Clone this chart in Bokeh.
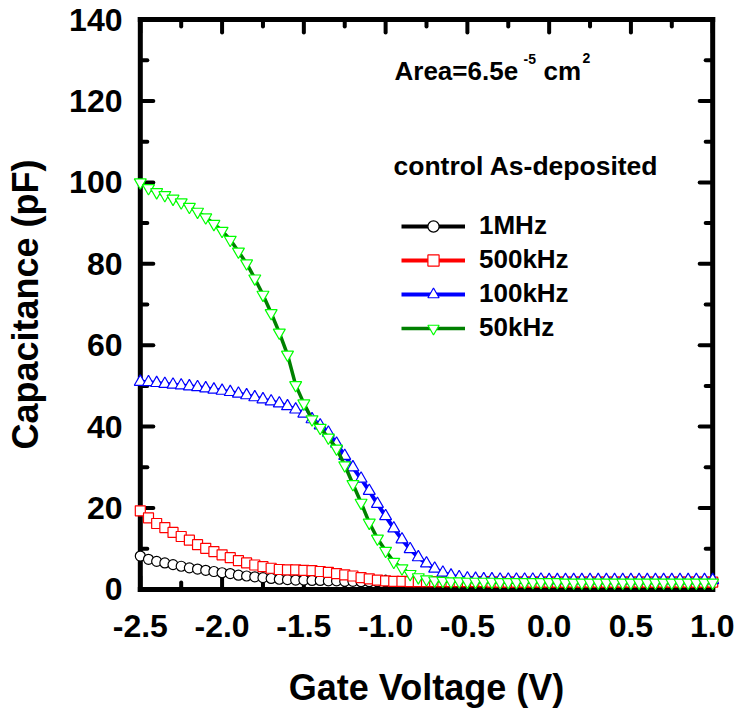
from bokeh.plotting import figure
from bokeh.models import (Range1d, FixedTicker, Legend, LegendItem,
                          Label, ColumnDataSource)
from bokeh.embed import file_html
from bokeh.resources import INLINE

# Gate-voltage sweep (V)
volts = [-2.5, -2.45, -2.4, -2.35, -2.3, -2.25, -2.2, -2.15, -2.1, -2.05,
         -2.0, -1.95, -1.9, -1.85, -1.8, -1.75, -1.7, -1.65, -1.6, -1.55,
         -1.5, -1.45, -1.4, -1.35, -1.3, -1.25, -1.2, -1.15, -1.1, -1.05,
         -1.0, -0.95, -0.9, -0.85, -0.8, -0.75, -0.7, -0.65, -0.6, -0.55,
         -0.5, -0.45, -0.4, -0.35, -0.3, -0.25, -0.2, -0.15, -0.1, -0.05,
         0.0, 0.05, 0.1, 0.15, 0.2, 0.25, 0.3, 0.35, 0.4, 0.45,
         0.5, 0.55, 0.6, 0.65, 0.7, 0.75, 0.8, 0.85, 0.9, 0.95, 1.0]

# Capacitance (pF) per measurement frequency
cap_1mhz = [8.2, 7.4, 6.9, 6.5, 6.1, 5.7, 5.3, 5.0, 4.7, 4.4,
            4.1, 3.9, 3.5, 3.3, 3.1, 2.9, 2.7, 2.5, 2.4, 2.3,
            2.3, 2.2, 2.2, 2.1, 2.1, 2.0, 2.0, 1.9, 1.9, 1.9,
            1.9, 1.8, 1.8, 1.8, 1.8, 1.8, 1.8, 1.8, 1.8, 1.8,
            1.8, 1.8, 1.7, 1.7, 1.7, 1.7, 1.7, 1.7, 1.7, 1.7,
            1.7, 1.7, 1.7, 1.7, 1.7, 1.7, 1.7, 1.7, 1.7, 1.7,
            1.7, 1.7, 1.7, 1.7, 1.7, 1.7, 1.7, 1.7, 1.7, 1.7, 1.7]

cap_500khz = [19.3, 17.6, 16.2, 15.2, 14.0, 13.0, 12.1, 11.0, 10.1, 9.3,
              8.5, 7.8, 7.1, 6.5, 6.0, 5.6, 5.2, 4.9, 4.8, 4.8,
              4.7, 4.6, 4.4, 4.2, 3.9, 3.6, 3.3, 2.9, 2.6, 2.3,
              2.1, 2.0, 2.0, 1.9, 1.9, 1.9, 1.9, 1.9, 1.9, 1.9,
              1.9, 1.9, 1.9, 1.8, 1.8, 1.8, 1.8, 1.8, 1.8, 1.8,
              1.8, 1.8, 1.8, 1.8, 1.8, 1.8, 1.8, 1.8, 1.8, 1.8,
              1.8, 1.8, 1.8, 1.8, 1.8, 1.8, 1.8, 1.8, 1.8, 1.8, 1.8]

cap_100khz = [51.0, 50.9, 50.7, 50.5, 50.3, 50.1, 49.9, 49.7, 49.4, 49.1,
              48.8, 48.5, 48.1, 47.7, 47.2, 46.7, 46.2, 45.7, 45.0, 44.2,
              43.2, 41.8, 40.3, 38.5, 35.8, 32.8, 30.0, 27.2, 24.2, 21.0,
              18.0, 15.0, 12.3, 9.9, 7.9, 6.4, 5.1, 4.1, 3.4, 3.0,
              2.7, 2.6, 2.5, 2.5, 2.4, 2.4, 2.4, 2.4, 2.4, 2.4,
              2.3, 2.3, 2.3, 2.3, 2.3, 2.3, 2.3, 2.3, 2.3, 2.3,
              2.3, 2.3, 2.3, 2.3, 2.3, 2.3, 2.3, 2.3, 2.3, 2.3, 2.3]

cap_50khz = [100.0, 98.6, 97.6, 96.9, 96.0, 95.1, 94.0, 92.8, 91.4, 89.8,
             88.1, 85.9, 83.0, 80.1, 76.4, 72.4, 67.9, 63.1, 57.7, 50.2,
             45.7, 41.8, 39.7, 37.3, 34.6, 30.5, 25.9, 21.3, 16.4, 12.5,
             9.5, 6.8, 5.2, 3.8, 3.0, 2.5, 2.2, 2.1, 2.0, 2.0,
             1.9, 1.9, 1.9, 1.9, 1.8, 1.8, 1.8, 1.8, 1.8, 1.8,
             1.8, 1.8, 1.7, 1.7, 1.7, 1.7, 1.7, 1.7, 1.7, 1.7,
             1.7, 1.7, 1.7, 1.7, 1.7, 1.7, 1.7, 1.7, 1.7, 1.7, 1.7]

series_labels = ["1MHz", "500kHz", "100kHz", "50kHz"]

x_major = [-2.5, -2.0, -1.5, -1.0, -0.5, 0.0, 0.5, 1.0]
x_minor = [-2.25, -1.75, -1.25, -0.75, -0.25, 0.25, 0.75]
x_tick_labels = ["-2.5", "-2.0", "-1.5", "-1.0", "-0.5", "0.0", "0.5", "1.0"]
y_major = [0, 20, 40, 60, 80, 100, 120, 140]
y_minor = [10, 30, 50, 70, 90, 110, 130]
y_tick_labels = ["0", "20", "40", "60", "80", "100", "120", "140"]

X_START, X_END = -2.5, 1.0
Y_START, Y_END = 0, 140
FONT = "Liberation Sans"

# Frame slightly larger than the axis box, so the box edges and the end
# markers are not clipped.
X_LO, X_HI = -2.56, 1.06
Y_LO, Y_HI = -1.0, 141.0
W, H = 734, 713
LEFT, RIGHT, TOP, BOTTOM = 130, 12, 15, 120

p = figure(width=W, height=H, output_backend="svg", toolbar_location=None,
           x_range=Range1d(X_LO, X_HI), y_range=Range1d(Y_LO, Y_HI),
           min_border_left=LEFT, min_border_right=RIGHT,
           min_border_top=TOP, min_border_bottom=BOTTOM,
           x_axis_label="Gate Voltage (V)", y_axis_label="Capacitance (pF)")
p.xgrid.visible = False
p.ygrid.visible = False
p.outline_line_color = None
p.background_fill_color = "white"
p.border_fill_color = "white"

# axes carry only the numbers and titles; box and ticks are drawn below
for ax, major, labels in ((p.xaxis[0], x_major, x_tick_labels),
                          (p.yaxis[0], y_major, y_tick_labels)):
    ax.ticker = FixedTicker(ticks=major)
    ax.major_label_overrides = dict(zip(major, labels))
    ax.axis_line_color = None
    ax.major_tick_line_color = None
    ax.minor_tick_line_color = None
    ax.major_tick_in = 0
    ax.major_tick_out = 0
    ax.minor_tick_in = 0
    ax.minor_tick_out = 0
    ax.major_label_text_font = FONT
    ax.major_label_text_font_style = "bold"
    ax.major_label_text_font_size = "32px"
    ax.major_label_text_color = "black"
    ax.axis_label_text_font = FONT
    ax.axis_label_text_font_style = "bold"
    ax.axis_label_text_font_size = "36px"
    ax.axis_label_text_color = "black"

p.xaxis[0].major_label_standoff = 21
p.xaxis[0].axis_label_standoff = 27
p.yaxis[0].major_label_standoff = 8
p.yaxis[0].axis_label_standoff = 20

# pixel -> data conversion for tick lengths
px_per_x = (W - LEFT - RIGHT) / (X_HI - X_LO)
px_per_y = (H - TOP - BOTTOM) / (Y_HI - Y_LO)
MAJOR_PX, MINOR_PX = 13, 7

# box around the plotting area
p.segment(x0=[X_START, X_START, X_START, X_END],
          y0=[Y_START, Y_END, Y_START, Y_START],
          x1=[X_END, X_END, X_START, X_END],
          y1=[Y_START, Y_END, Y_END, Y_END],
          line_color="black", line_width=5, line_cap="square")

# inward ticks on all four sides
for ticks, length in ((x_major, MAJOR_PX), (x_minor, MINOR_PX)):
    dy = length / px_per_y
    p.segment(x0=ticks + ticks, x1=ticks + ticks,
              y0=[Y_START] * len(ticks) + [Y_END] * len(ticks),
              y1=[Y_START + dy] * len(ticks) + [Y_END - dy] * len(ticks),
              line_color="black", line_width=4, line_cap="round")
for ticks, length in ((y_major, MAJOR_PX), (y_minor, MINOR_PX)):
    dx = length / px_per_x
    p.segment(y0=ticks + ticks, y1=ticks + ticks,
              x0=[X_START] * len(ticks) + [X_END] * len(ticks),
              x1=[X_START + dx] * len(ticks) + [X_END - dx] * len(ticks),
              line_color="black", line_width=4, line_cap="round")

styles = [
    # line colour, marker colour, marker, size
    ("black", "black", "circle", 10),
    ("red", "red", "square", 10),
    ("blue", "blue", "triangle", 12),
    ("#008000", "#00FF00", "inverted_triangle", 12),
]
values = [cap_1mhz, cap_500khz, cap_100khz, cap_50khz]

items = []
for name, vals, (lc, mc, marker, size) in zip(series_labels, values, styles):
    src = ColumnDataSource(dict(v=volts, c=vals))
    ln = p.line("v", "c", source=src, line_color=lc,
                line_width=3.5 if marker == "inverted_triangle" else 4)
    sc = p.scatter("v", "c", source=src, marker=marker, size=size,
                   line_color=mc, fill_color="white", line_width=1.2)
    items.append(LegendItem(label=name, renderers=[ln, sc]))

legend = Legend(items=items, location=(271, 250),
                glyph_width=64, glyph_height=28, label_height=28,
                spacing=3, padding=0, margin=0, label_standoff=14,
                border_line_color=None, background_fill_alpha=0,
                label_text_font=FONT, label_text_font_style="bold",
                label_text_font_size="26px", label_text_color="black")
p.add_layout(legend)


def note(x, y, text, size):
    p.add_layout(Label(x=x, y=y, x_units="screen", y_units="screen",
                       text=text, text_font=FONT, text_font_style="bold",
                       text_font_size=size, text_color="black",
                       text_baseline="alphabetic"))


note(263, 428, "control As-deposited", "26.5px")
note(264, 523, "Area=6.5e", "26px")
note(393, 535, "-5", "14px")
note(413, 523, "cm", "26px")
note(452, 536, "2", "14px")

open("out.html", "w").write(file_html(p, INLINE))
